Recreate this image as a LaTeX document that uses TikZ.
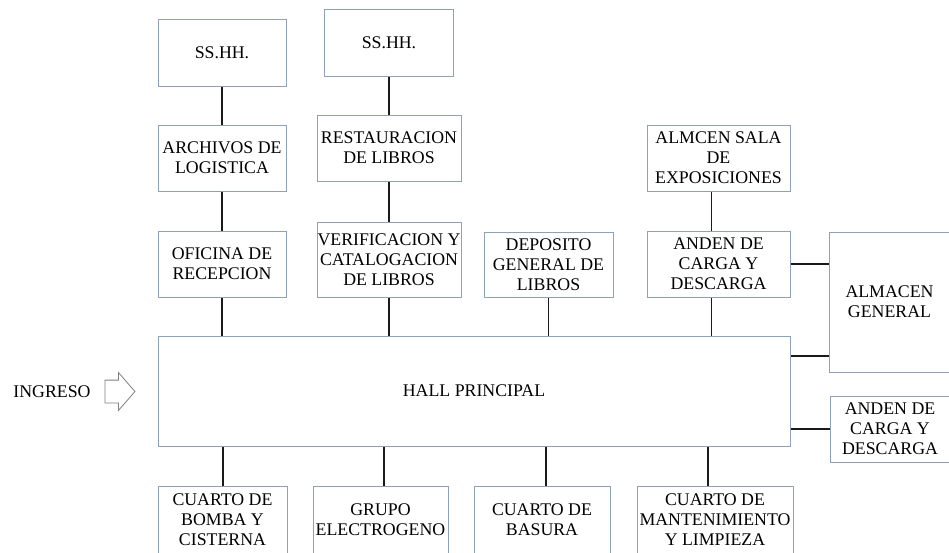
\documentclass[tikz,border=0pt]{standalone}
\usepackage{fontspec}
\setmainfont{Liberation Serif}
\usetikzlibrary{calc,shapes.arrows}
\definecolor{cEdge}{HTML}{8EA2B4}
\definecolor{cLink}{HTML}{1A1A1A}
\definecolor{cArrow}{HTML}{7F7F7F}

\begin{document}
\begin{tikzpicture}[x=1pt, y=-1pt, font=\fontsize{17.8}{20}\selectfont,
    room/.style={draw=cEdge, line width=1pt, fill=white, align=center, inner sep=0pt},
    link/.style={cLink, line width=1.2pt}]
    \useasboundingbox (0,0) rectangle (949,552);

    % --- upper wing --------------------------------------------------
    \node[room, minimum width=128, minimum height=67] (ssA)   at (222,52.5)  {SS.HH.};
    \node[room, minimum width=129, minimum height=67] (ssB)   at (389,42.5)  {SS.HH.};
    \node[room, minimum width=128, minimum height=66] (arch)  at (222,158)   {ARCHIVOS DE\\LOGISTICA};
    \node[room, minimum width=144, minimum height=66] (rest)  at (389,148)   {RESTAURACION\\DE LIBROS};
    \node[room, minimum width=128, minimum height=66] (ofic)  at (222,264)   {OFICINA DE\\RECEPCION};
    \node[room, minimum width=144, minimum height=75] (verif) at (389,259.5) {VERIFICACION Y\\CATALOGACION\\DE LIBROS};
    \node[room, minimum width=129, minimum height=65] (depo)  at (548.5,264.5) {DEPOSITO\\GENERAL DE\\LIBROS};
    \node[room, minimum width=143, minimum height=66] (almS)  at (718.5,158) {ALMCEN SALA\\DE\\EXPOSICIONES};
    \node[room, minimum width=143, minimum height=66] (and1)  at (718.5,264) {ANDEN DE\\CARGA Y\\DESCARGA};

    % --- hall + right wing -------------------------------------------
    \node[room, minimum width=632, minimum height=110] (hall) at (474,391)   {HALL PRINCIPAL};
    \node[room, minimum width=121, minimum height=140] (almG) at (889.5,302) {ALMACEN\\GENERAL};
    \node[room, minimum width=120, minimum height=66]  (and2) at (890,429)   {ANDEN DE\\CARGA Y\\DESCARGA};

    % --- lower wing --------------------------------------------------
    \node[room, minimum width=129, minimum height=67] (bomba)  at (222.5,519.5) {CUARTO DE\\BOMBA Y\\CISTERNA};
    \node[room, minimum width=135, minimum height=67] (grupo)  at (380.5,519.5) {GRUPO\\ELECTROGENO};
    \node[room, minimum width=136, minimum height=67] (basura) at (542,519.5)   {CUARTO DE\\BASURA};
    \node[room, minimum width=156, minimum height=67] (mant)   at (715,519.5)   {CUARTO DE\\MANTENIMIENTO\\Y LIMPIEZA};

    % --- entrance ----------------------------------------------------
    \node (ingreso) at (52,392) {INGRESO};
    \node[single arrow, draw=cArrow, line width=0.8pt, inner xsep=0pt, inner ysep=11pt,
          minimum height=30, minimum width=37, single arrow head extend=7.5pt,
          single arrow tip angle=98] (ingArrow) at (115,391.5) {};

    % --- connectors --------------------------------------------------
    \draw[link] (ssA) -- (arch);
    \draw[link] (arch) -- (ofic);
    \draw[link] (ofic) -- (ofic |- hall.north);
    \draw[link] (ssB) -- (rest);
    \draw[link] (rest) -- (verif);
    \draw[link] (verif) -- (verif |- hall.north);
    \draw[link] (depo) -- (depo |- hall.north);
    \draw[link] ([xshift=-7pt]almS.south) -- ([xshift=-7pt]and1.north);
    \coordinate (and1-foot) at ([xshift=-7pt]and1.south);
    \draw[link] (and1-foot) -- (and1-foot |- hall.north);

    \draw[link] (and1) -- (and1 -| almG.west);
    \coordinate (hall-r) at ([yshift=35pt]hall.east);
    \draw[link] (hall-r) -- (hall-r -| almG.west);
    \draw[link] (and2) -- (and2 -| hall.east);

    \foreach \n/\dx in {bomba/0.5, grupo/3.5, basura/4, mant/-7}{
      \coordinate (\n-top) at ([xshift=\dx pt]\n.north);
      \draw[link] (\n-top) -- (\n-top |- hall.south);
    }
\end{tikzpicture}
\end{document}
